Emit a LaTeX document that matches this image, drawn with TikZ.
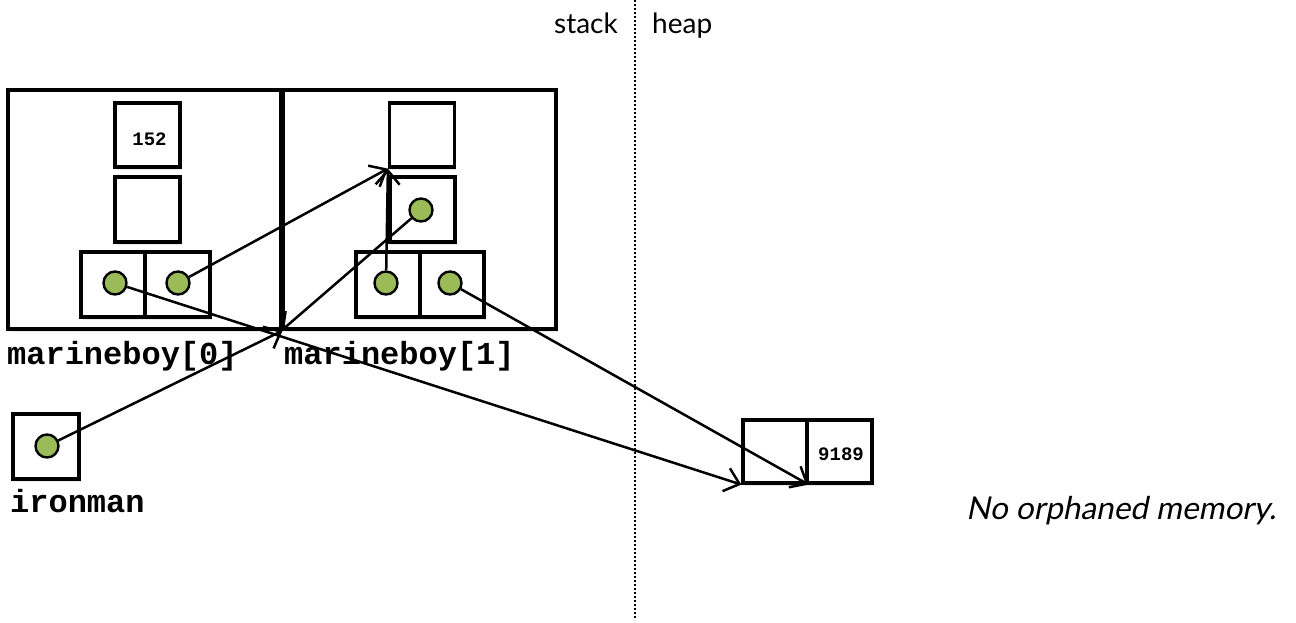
\documentclass[tikz,border=0pt]{standalone}
\usepackage{fontspec}
\setmainfont{Lato}
\newfontfamily\monofam{Liberation Mono}
\newfontfamily\oblfam{Lato}[FakeSlant=0.2]
\usetikzlibrary{arrows.meta,shadows}
\definecolor{dotgreen}{HTML}{9BBB59}
\tikzset{
  cell/.style={draw=black, line width=3.2pt, rectangle, inner sep=0pt, fill=white,
    drop shadow={shadow xshift=1.5pt, shadow yshift=-2.5pt, opacity=0.18}},
  ptr/.style={circle, draw=black, line width=2.4pt, fill=dotgreen, minimum size=23pt, inner sep=0pt},
  link/.style={line width=2.5pt, -{Straight Barb[length=14pt,width=24pt,line width=2.5pt]}},
  lbl/.style={inner sep=0pt, anchor=base west, font=\monofam\bfseries\fontsize{32}{36}\selectfont},
  val/.style={inner sep=0pt, font=\monofam\bfseries\fontsize{19}{22}\selectfont},
  side/.style={inner sep=0pt, font=\fontsize{28}{32}\selectfont}
}
\begin{document}
\begin{tikzpicture}[x=1pt,y=-1pt]
\useasboundingbox (0,0) rectangle (1296,622);
% stack / heap divider
\coordinate (divtop) at (635,0);
\coordinate (divbot) at (635,620);
\draw[line width=2.6pt, dash pattern=on 2pt off 2pt] (divtop) -- (divbot);
\node[side, anchor=base east] (stack) at (618,33) {stack};
\node[side, anchor=base west] (heap) at (652,33) {heap};
% outer boxes
\node[cell, minimum width=273pt, minimum height=239pt] (outer0) at (144.5,209.5) {};
\node[cell, minimum width=273pt, minimum height=239pt] (outer1) at (419.5,209.5) {};
% marineboy[0]
\node[cell, minimum width=65pt, minimum height=64pt] (b0top) at (147.5,135) {};
\node[val] (v152) at (149.5,139) {152};
\node[cell, minimum width=65pt, minimum height=65pt] (b0mid) at (147.5,209.5) {};
\node[cell, minimum width=64pt, minimum height=65pt] (b0l) at (113,284.5) {};
\node[cell, minimum width=65pt, minimum height=65pt] (b0r) at (177.5,284.5) {};
% marineboy[1]
\node[cell, minimum width=65pt, minimum height=64pt] (b1top) at (422,135) {};
\node[cell, minimum width=65pt, minimum height=65pt] (b1mid) at (422.5,209.5) {};
\node[cell, minimum width=64pt, minimum height=65pt] (b1l) at (388,284.5) {};
\node[cell, minimum width=64pt, minimum height=65pt] (b1r) at (452,284.5) {};
% ironman
\node[cell, minimum width=66pt, minimum height=65pt] (iron) at (46,446.5) {};
% heap
\node[cell, minimum width=64pt, minimum height=63pt] (h0) at (775,451.5) {};
\node[cell, minimum width=65pt, minimum height=63pt] (h1) at (839.5,451.5) {};
\node[val] (v9189) at (841,454) {9189};
% labels
\node[lbl] (l0) at (7,364) {marineboy[0]};
\node[lbl] (l1) at (284,364) {marineboy[1]};
\node[lbl] (li) at (10,512) {ironman};
\node[inner sep=0pt, anchor=base west, font=\oblfam\fontsize{31.5}{36}\selectfont] (note) at (966,519) {No orphaned memory.};
% pointers
\node[ptr] (d0l) at (115,283) {};
\node[ptr] (d0r) at (178,283) {};
\node[ptr] (d1m) at (421,210) {};
\node[ptr] (d1l) at (386,283) {};
\node[ptr] (d1r) at (450,283) {};
\node[ptr] (di) at (47,446) {};
% connectors
\draw[link] (d0l) -- (h0.south west);
\draw[link] (d1r) -- (h0.south east);
\draw[link] (d0r) -- (b1top.south west);
\draw[link] (d1l) -- (b1top.south west);
\draw[link] (d1m) -- (outer1.south west);
\draw[link] (di) -- (outer0.south east);
\end{tikzpicture}
\end{document}
